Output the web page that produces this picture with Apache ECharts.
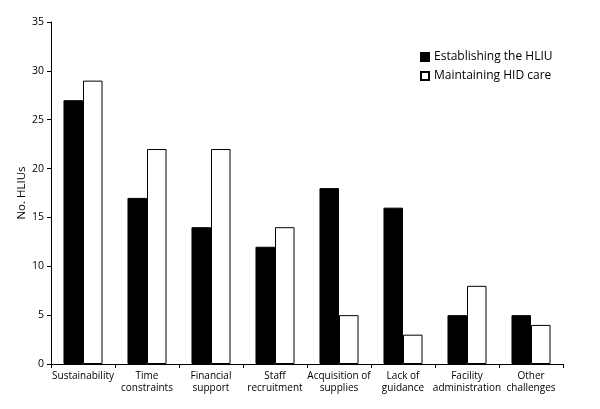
<!DOCTYPE html>
<html><head><meta charset="utf-8">
<script src="https://cdn.jsdelivr.net/npm/echarts@6/dist/echarts.min.js"></script>
<style>html,body{margin:0;padding:0;background:#fff}#c{width:600px;height:409px}</style>
</head><body><div id="c"></div>
<script>
const categories = ["Sustainability","Time\nconstraints","Financial\nsupport","Staff\nrecruitment","Acquisition of\nsupplies","Lack of\nguidance","Facility\nadministration","Other\nchallenges"];
const establishing = [27,17,14,12,18,16,5,5];
const maintaining = [29,22,22,14,5,3,8,4];
const yTicks = {min:0,max:35,interval:5};
const font = "Open Sans";
const chart = echarts.init(document.getElementById('c'));
chart.setOption({
  animation:false,
  grid:{left:51,right:37,top:22,bottom:45},
  legend:{
    orient:'vertical', left:415, top:46, itemWidth:8, itemHeight:8, itemGap:7,
    icon:'rect',
    textStyle:{fontFamily:font,fontSize:12,color:'#000'},
    data:['Establishing the HLIU','Maintaining HID care']
  },
  xAxis:{
    type:'category', data:categories,
    axisLine:{lineStyle:{color:'#000',width:1}},
    axisTick:{show:true,length:4,lineStyle:{color:'#000'},alignWithLabel:false},
    axisLabel:{fontFamily:font,fontSize:10,color:'#000',interval:0,lineHeight:12,margin:6}
  },
  yAxis:{
    type:'value', min:yTicks.min, max:yTicks.max, interval:yTicks.interval,
    name:'No. HLIUs', nameLocation:'middle', nameGap:23, nameMoveOverlap:false,
    nameTextStyle:{fontFamily:font,fontSize:11.5,color:'#000'},
    axisLine:{show:true,lineStyle:{color:'#000',width:1}},
    axisTick:{show:true,length:4,lineStyle:{color:'#000'}},
    splitLine:{show:false},
    axisLabel:{fontFamily:font,fontSize:10.5,color:'#000',margin:7}
  },
  series:[
    {name:'Establishing the HLIU',type:'bar',data:establishing,barGap:'0%',barCategoryGap:'39%',
     itemStyle:{color:'#000',borderColor:'#000',borderWidth:1}},
    {name:'Maintaining HID care',type:'bar',data:maintaining,
     itemStyle:{color:'#fff',borderColor:'#000',borderWidth:1}}
  ]
});
</script></body></html>
